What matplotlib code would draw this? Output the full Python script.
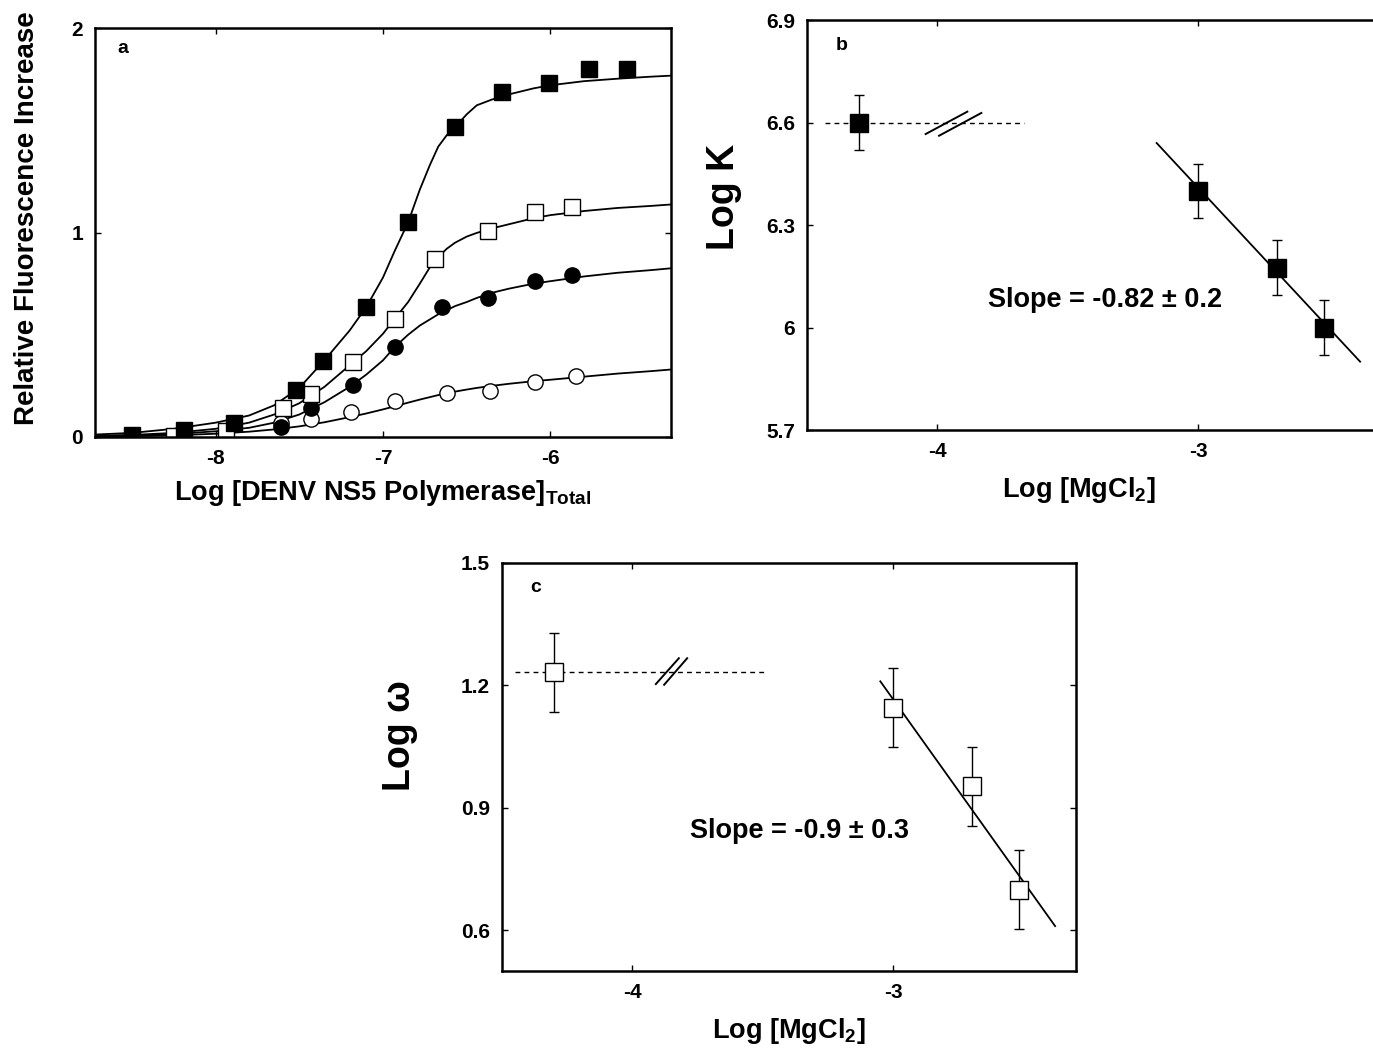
import numpy as np
import matplotlib
matplotlib.use('Agg')
import matplotlib.pyplot as plt
from matplotlib.path import Path

plt.rcParams['font.family'] = ['Liberation Sans', 'DejaVu Sans']
plt.rcParams['font.weight'] = 'bold'
plt.rcParams['mathtext.default'] = 'regular'

# ---- panel a: titration data ----
x_sq_fill = [-8.50, -8.19, -7.89, -7.52, -7.36, -7.10, -6.85, -6.57, -6.29, -6.01, -5.77, -5.54]
y_sq_fill = [0.012, 0.035, 0.07, 0.23, 0.37, 0.635, 1.05, 1.515, 1.685, 1.73, 1.80, 1.80]
x_sq_open = [-8.25, -7.94, -7.60, -7.43, -7.18, -6.93, -6.69, -6.37, -6.09, -5.87]
y_sq_open = [0.005, 0.03, 0.14, 0.21, 0.365, 0.578, 0.868, 1.008, 1.098, 1.124]
x_ci_fill = [-7.94, -7.61, -7.43, -7.18, -6.93, -6.65, -6.37, -6.09, -5.87]
y_ci_fill = [0.005, 0.05, 0.14, 0.255, 0.44, 0.635, 0.68, 0.765, 0.79]
x_ci_open = [-7.94, -7.61, -7.43, -7.19, -6.93, -6.62, -6.36, -6.09, -5.85]
y_ci_open = [0.025, 0.07, 0.09, 0.12, 0.175, 0.215, 0.225, 0.27, 0.30]

# fitted curves
fit_x = [-8.72, -8.5, -8.25, -8.0, -7.8, -7.65, -7.5, -7.35, -7.2, -7.1, -7.0, -6.93, -6.85,
         -6.78, -6.72, -6.67, -6.62, -6.57, -6.5, -6.44, -6.35, -6.25, -6.1, -6.0, -5.8,
         -5.6, -5.4, -5.28]
fit_sq_fill = [0.012, 0.02, 0.04, 0.07, 0.105, 0.155, 0.24, 0.375, 0.52, 0.635, 0.78, 0.91,
               1.05, 1.21, 1.33, 1.42, 1.475, 1.515, 1.578, 1.622, 1.65, 1.675, 1.705, 1.72,
               1.74, 1.752, 1.762, 1.767]
fit_sq_open = [0.006, 0.01, 0.02, 0.04, 0.07, 0.11, 0.165, 0.245, 0.35, 0.42, 0.505, 0.578,
               0.66, 0.75, 0.83, 0.88, 0.92, 0.95, 0.98, 0.998, 1.02, 1.04, 1.07, 1.085,
               1.105, 1.12, 1.13, 1.137]
fit_ci_fill = [0.004, 0.007, 0.014, 0.028, 0.045, 0.07, 0.11, 0.17, 0.245, 0.305, 0.375, 0.44,
               0.5, 0.545, 0.575, 0.6, 0.62, 0.64, 0.66, 0.68, 0.705, 0.725, 0.75, 0.762,
               0.785, 0.803, 0.816, 0.825]
fit_ci_open = [0.002, 0.004, 0.008, 0.016, 0.026, 0.037, 0.052, 0.072, 0.097, 0.115, 0.135,
               0.15, 0.168, 0.183, 0.195, 0.205, 0.215, 0.222, 0.232, 0.24, 0.25, 0.26, 0.273,
               0.28, 0.295, 0.31, 0.322, 0.33]

# ---- panel b: log K vs log [MgCl2] ----
mg_b = [-4.30, -3.00, -2.70, -2.52]
logk = [6.60, 6.40, 6.175, 6.00]
logk_err = [0.08, 0.08, 0.08, 0.08]
fit_b_x = [-3.16, -2.38]
fit_b_y = [6.54, 5.90]
dash_b_x = [-4.43, -3.67]
dash_b_y = [6.60, 6.60]
brk_b = (-3.94, 6.60)

# ---- panel c: log omega vs log [MgCl2] ----
mg_c = [-4.30, -3.00, -2.70, -2.52]
logw = [1.232, 1.145, 0.953, 0.699]
logw_err = [0.097, 0.097, 0.097, 0.097]
fit_c_x = [-3.05, -2.38]
fit_c_y = [1.21, 0.61]
dash_c_x = [-4.45, -3.49]
dash_c_y = [1.232, 1.232]
brk_c = (-3.854, 1.236)

W, H = 1373, 1051
fig = plt.figure(figsize=(W / 100, H / 100), dpi=100)


def px_axes(l, r, t, b):
    return fig.add_axes([l / W, 1 - b / H, (r - l) / W, (b - t) / H])


def style(ax):
    for s in ax.spines.values():
        s.set_linewidth(1.8)
    ax.tick_params(direction='in', length=4, width=1.0, top=True, right=True,
                   labelsize=15, pad=8.5)
    for lab in ax.get_xticklabels() + ax.get_yticklabels():
        lab.set_fontweight('bold')


def break_marker(segs):
    verts, codes = [], []
    for (x0, y0, x1, y1) in segs:
        verts += [(x0, y0), (x1, y1)]
        codes += [Path.MOVETO, Path.LINETO]
    m = max(abs(v) for p in verts for v in p)
    return Path(verts, codes), 2 * m * 0.72


axa = px_axes(95, 671, 28, 437)
for fy in (fit_sq_fill, fit_sq_open, fit_ci_fill, fit_ci_open):
    axa.plot(fit_x, fy, color='black', lw=1.3)
axa.plot(x_ci_open, y_ci_open, 'o', ms=11, mfc='white', mec='black', mew=1.0)
axa.plot(x_ci_fill, y_ci_fill, 'o', ms=11, mfc='black', mec='black', mew=1.0)
axa.plot(x_sq_open, y_sq_open, 's', ms=11.5, mfc='white', mec='black', mew=1.0)
axa.plot(x_sq_fill, y_sq_fill, 's', ms=11.5, mfc='black', mec='black', mew=1.0)
axa.set_xlim(-8.72, -5.28)
axa.set_ylim(0, 2)
axa.set_xticks([-8, -7, -6])
axa.set_yticks([0, 1, 2])
axa.set_xticklabels(['-8', '-7', '-6'])
axa.set_yticklabels(['0', '1', '2'])
style(axa)
axa.text(0.038, 0.95, 'a', transform=axa.transAxes, fontsize=14, fontweight='bold',
         va='center', ha='left')
axa.set_ylabel('Relative Fluorescence Increase', fontsize=20, fontweight='bold')
axa.yaxis.set_label_coords(-0.095, 0.535)
axa.set_xlabel(r'Log [DENV NS5 Polymerase]$_{\mathregular{Total}}$', fontsize=19.5,
               fontweight='bold')
axa.xaxis.set_label_coords(0.5, -0.10)

axb = px_axes(807, 1381, 20, 430)
axb.plot(dash_b_x, dash_b_y, color='black', lw=1.0, ls=(0, (3.5, 3)))
pth, sz = break_marker([(-28.7, -11, 14.7, 12.3), (-15.3, -12.7, 28.7, 11)])
axb.plot([brk_b[0]], [brk_b[1]], marker=pth, ms=sz, mfc='none', mec='black', mew=1.4,
         ls='none')
axb.plot(fit_b_x, fit_b_y, color='black', lw=1.3)
axb.errorbar(mg_b, logk, yerr=logk_err, fmt='s', ms=13.5, mfc='black', mec='black',
             ecolor='black', elinewidth=1.0, capsize=3.5, capthick=1.0)
axb.set_xlim(-4.5, -2.3)
axb.set_ylim(5.7, 6.9)
axb.set_xticks([-4, -3])
axb.set_xticklabels(['-4', '-3'])
axb.set_yticks([5.7, 6.0, 6.3, 6.6, 6.9])
axb.set_yticklabels(['5.7', '6', '6.3', '6.6', '6.9'])
style(axb)
axb.text(0.05, 0.937, 'b', transform=axb.transAxes, fontsize=14, fontweight='bold',
         va='center', ha='left')
axb.text(-3.356, 6.08, 'Slope = -0.82 \u00b1 0.2', fontsize=19.5, fontweight='bold',
         ha='center', va='center')
axb.set_ylabel('Log K', fontsize=27, fontweight='bold')
axb.yaxis.set_label_coords(-0.113, 0.568)
axb.set_xlabel(r'Log [MgCl$_{\mathregular{2}}$]', fontsize=19.5, fontweight='bold')
axb.xaxis.set_label_coords(0.474, -0.11)

axc = px_axes(502, 1076, 563, 971)
axc.plot(dash_c_x, dash_c_y, color='black', lw=1.0, ls=(0, (3.5, 3)))
pth, sz = break_marker([(-16.3, -13.3, 8, 14), (-8, -14, 16.3, 14)])
axc.plot([brk_c[0]], [brk_c[1]], marker=pth, ms=sz, mfc='none', mec='black', mew=1.4,
         ls='none')
axc.plot(fit_c_x, fit_c_y, color='black', lw=1.3)
axc.errorbar(mg_c, logw, yerr=logw_err, fmt='s', ms=12.5, mfc='white', mec='black',
             mew=1.0, ecolor='black', elinewidth=1.0, capsize=3.5, capthick=1.0)
axc.set_xlim(-4.5, -2.3)
axc.set_ylim(0.5, 1.5)
axc.set_xticks([-4, -3])
axc.set_xticklabels(['-4', '-3'])
axc.set_yticks([0.6, 0.9, 1.2, 1.5])
axc.set_yticklabels(['0.6', '0.9', '1.2', '1.5'])
style(axc)
axc.text(0.05, 0.939, 'c', transform=axc.transAxes, fontsize=14, fontweight='bold',
         va='center', ha='left')
axc.text(-3.36, 0.843, 'Slope = -0.9 \u00b1 0.3', fontsize=19.5, fontweight='bold',
         ha='center', va='center')
axc.set_ylabel('Log \u03c9', fontsize=27, fontweight='bold')
axc.yaxis.set_label_coords(-0.147, 0.578)
axc.set_xlabel(r'Log [MgCl$_{\mathregular{2}}$]', fontsize=19.5, fontweight='bold')
axc.xaxis.set_label_coords(0.5, -0.11)

fig.savefig('out.png', dpi=100)
